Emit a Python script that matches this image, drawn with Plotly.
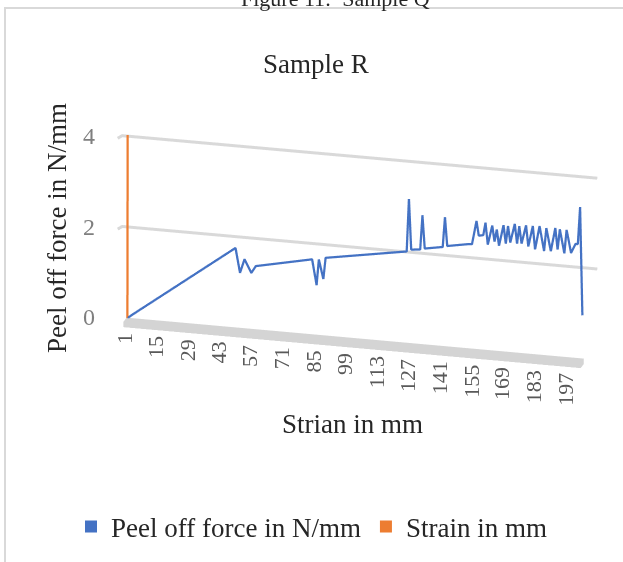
import plotly.graph_objects as go

# ---------------- data ----------------
chart_title = "Sample R"
header_text = "Figure 11:  Sample Q"
y_title = "Peel off force in N/mm"
x_title = "Strian in mm"
series_names = ["Peel off force in N/mm", "Strain in mm"]
x_tick_labels = [1, 15, 29, 43, 57, 71, 85, 99, 113, 127, 141, 155, 169, 183, 197]
y_tick_labels = [0, 2, 4]
n_categories = 203

force_x = [1, 3, 49, 51, 53, 56, 58, 83, 85, 86, 88, 89, 125, 126, 127, 131, 132, 133,
           141, 142, 143, 152, 154, 156, 157, 159, 160, 161, 163, 164, 165, 166, 168, 169,
           170, 171, 173, 174, 175, 176, 178, 179, 181, 182, 184, 186, 187, 189, 191, 192,
           193, 195, 196, 198, 200, 201, 202, 203]
force_y = [0.00, 0.08, 1.76, 1.22, 1.53, 1.24, 1.40, 1.66, 1.10, 1.67, 1.25, 1.72, 2.02, 3.18,
           2.07, 2.09, 2.85, 2.12, 2.19, 2.85, 2.22, 2.30, 2.31, 2.83, 2.51, 2.53, 2.81, 2.33,
           2.76, 2.41, 2.68, 2.33, 2.79, 2.39, 2.78, 2.42, 2.84, 2.41, 2.80, 2.42, 2.83, 2.37,
           2.83, 2.32, 2.84, 2.30, 2.81, 2.31, 2.83, 2.36, 2.81, 2.29, 2.81, 2.31, 2.52, 2.52,
           3.34, 0.96]

strain_x = [1, 2]
strain_y = [0, 40]

# ---------------- style ----------------
BLUE = "#4472c4"
ORANGE = "#ed7d31"
GRID = "#d9d9d9"
SERIF = "Liberation Serif"
TXT = "#262626"
Z_FLOOR = -0.12
Z_TOP = 4.04
DEPTH = 0.9
WALL_L, WALL_R = 3.0, 6.0   # back wall overhang (in categories)

fig = go.Figure()

x0, x1 = 0.5, n_categories + 0.5

# floor slab (decoration)
fig.add_trace(go.Mesh3d(
    x=[x0, x1, x1, x0, x0, x1, x1, x0],
    y=[0, 0, 1, 1, 0, 0, 1, 1],
    z=[Z_FLOOR] * 4 + [0] * 4,
    i=[0, 0, 4, 4, 0, 0, 3, 3, 0, 0, 1, 1],
    j=[1, 2, 5, 6, 1, 5, 2, 6, 3, 7, 2, 6],
    k=[2, 3, 6, 7, 5, 4, 6, 7, 7, 4, 6, 5],
    color="#d4d4d4", flatshading=True,
    lighting=dict(ambient=1, diffuse=0, specular=0, roughness=1, fresnel=0),
    hoverinfo="skip", showscale=False, showlegend=False))

# back-wall gridlines at the value ticks (drawn thick)
for v in y_tick_labels[1:]:
    fig.add_trace(go.Scatter3d(
        x=[x0 - WALL_L, x0 - WALL_L + 1, x1 + WALL_R], y=[0.3, 1, 1], z=[v, v, v],
        mode="lines", line=dict(color=GRID, width=6), showlegend=False,
        hoverinfo="skip"))

fig.add_trace(go.Scatter3d(
    x=force_x, y=[DEPTH] * len(force_x), z=force_y, mode="lines",
    line=dict(color=BLUE, width=4.5), name=series_names[0], showlegend=False,
    hoverinfo="skip"))
fig.add_trace(go.Scatter3d(
    x=strain_x, y=[DEPTH] * len(strain_x), z=strain_y, mode="lines",
    line=dict(color=ORANGE, width=4.5), name=series_names[1], showlegend=False,
    hoverinfo="skip"))

# legend entries (square swatches)
for name, col in zip(series_names, [BLUE, ORANGE]):
    fig.add_trace(go.Scatter(x=[None], y=[None], mode="markers", name=name,
                             marker=dict(symbol="square", size=12, color=col)))

scene_ann = []
for t in x_tick_labels:
    scene_ann.append(dict(x=t, y=0, z=Z_FLOOR, text=str(t), textangle=-90,
                          showarrow=False, xanchor="center", yanchor="top", yshift=-4,
                          font=dict(family=SERIF, size=22, color="#595959")))
for v in y_tick_labels:
    scene_ann.append(dict(x=x0 - WALL_L, y=1, z=v, text=str(v), showarrow=False,
                          xanchor="right", xshift=-22,
                          font=dict(family=SERIF, size=24, color="#7f7f7f")))

hidden = dict(visible=False, showgrid=False, zeroline=False, showline=False,
              showticklabels=False, showbackground=False, showspikes=False)

fig.update_layout(
    width=623, height=562,
    margin=dict(l=0, r=0, t=0, b=0),
    paper_bgcolor="white", plot_bgcolor="rgba(0,0,0,0)",
    hovermode=False,
    xaxis=dict(visible=False), yaxis=dict(visible=False),
    scene=dict(
        domain=dict(x=[0.147, 0.997], y=[0.297, 0.807]),
        xaxis=dict(range=[x0 - WALL_L, x1 + WALL_R], **hidden),
        yaxis=dict(range=[0, 1], **hidden),
        zaxis=dict(range=[Z_FLOOR, Z_TOP], **hidden),
        aspectmode="manual", aspectratio=dict(x=3.44, y=0.087, z=1.40),
        camera=dict(eye=dict(x=0.42, y=-1.60, z=0.60), up=dict(x=0, y=0, z=1),
                    center=dict(x=0, y=0, z=0),
                    projection=dict(type="orthographic")),
        annotations=scene_ann,
    ),
    legend=dict(orientation="h", x=0.5, xanchor="center", y=1 - 527 / 562,
                yanchor="middle", font=dict(family=SERIF, size=27, color=TXT),
                itemwidth=30, bgcolor="rgba(0,0,0,0)"),
    annotations=[
        dict(x=335 / 623, y=1, xref="paper", yref="paper", text=header_text,
             showarrow=False, yanchor="middle", yshift=2,
             font=dict(family=SERIF, size=22, color=TXT)),
        dict(x=316 / 623, y=1 - 47 / 562, xref="paper", yref="paper", text=chart_title,
             showarrow=False, font=dict(family=SERIF, size=27, color=TXT)),
        dict(x=40 / 623, y=1 - 228 / 562, xref="paper", yref="paper", text=y_title,
             textangle=-90, showarrow=False, font=dict(family=SERIF, size=27, color=TXT)),
        dict(x=352 / 623, y=1 - 441 / 562, xref="paper", yref="paper", text=x_title,
             showarrow=False, font=dict(family=SERIF, size=27, color=TXT)),
    ],
    shapes=[dict(type="rect", xref="paper", yref="paper", x0=5 / 623, x1=1.05,
                 y0=-0.05, y1=1 - 8 / 562, line=dict(color=GRID, width=2))],
)

fig.write_html("out.html")
